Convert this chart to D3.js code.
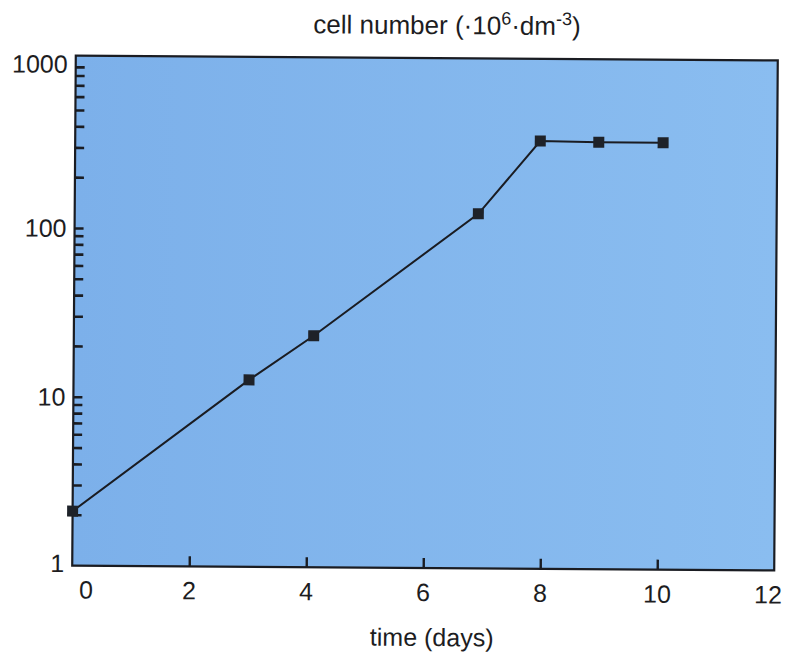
<!DOCTYPE html>
<html>
<head>
<meta charset="utf-8">
<script src="https://cdn.jsdelivr.net/npm/d3@7"></script>
<style>
  html, body { margin: 0; padding: 0; background: #fff; }
  svg { display: block; }
  text { font-family: "Liberation Sans", Arial, Helvetica, sans-serif; fill: #1d1d1f; }
</style>
</head>
<body>
<svg id="chart" width="787" height="655"></svg>
<script>
// Growth curve: cell density over the culture period
const days  = [0, 3, 4.1, 6.9, 7.95, 8.95, 10.05];
const cells = [2.1, 12.8, 23.5, 126, 342, 338, 338];

const xTickValues = [0, 2, 4, 6, 8, 10, 12];
const yLabelValues = [1, 10, 100, 1000];
const yMinorValues = [2,3,4,5,6,7,8,9,10, 20,30,40,50,60,70,80,90,100, 200,300,400,500,600,700,800,900];

const frame = { left: 74, right: 776, top: 58, bottom: 568 };

const svg = d3.select("#chart");
const g = svg.append("g")
  .attr("transform", `rotate(0.4, ${(frame.left + frame.right) / 2}, ${(frame.top + frame.bottom) / 2})`);

const x = d3.scaleLinear().domain([0, 12]).range([frame.left, frame.right]);
const y = d3.scaleLog().domain([1, 1050]).range([frame.bottom, frame.top]);

// plot background
const defs = svg.append("defs");
const grad = defs.append("linearGradient").attr("id", "bg").attr("x1", 0).attr("x2", 1).attr("y1", 0).attr("y2", 0);
grad.append("stop").attr("offset", "0%").attr("stop-color", "#7cb0ea");
grad.append("stop").attr("offset", "100%").attr("stop-color", "#8abdf0");

g.append("rect")
  .attr("x", frame.left).attr("y", frame.top)
  .attr("width", frame.right - frame.left).attr("height", frame.bottom - frame.top)
  .attr("fill", "url(#bg)");

// inward minor ticks on the log axis
g.append("g")
  .attr("transform", `translate(${frame.left},0)`)
  .call(d3.axisRight(y).tickValues(yMinorValues).tickSize(9).tickFormat(""))
  .call(a => a.select(".domain").remove())
  .call(a => a.selectAll("line").attr("stroke", "#1a1c22").attr("stroke-width", 2.6));

// inward ticks on the time axis
g.append("g")
  .attr("transform", `translate(0,${frame.bottom})`)
  .call(d3.axisTop(x).tickValues([2, 4, 6, 8, 10]).tickSize(10).tickFormat(""))
  .call(a => a.select(".domain").remove())
  .call(a => a.selectAll("line").attr("stroke", "#1a1c22").attr("stroke-width", 2.4));

// frame
g.append("rect")
  .attr("x", frame.left).attr("y", frame.top)
  .attr("width", frame.right - frame.left).attr("height", frame.bottom - frame.top)
  .attr("fill", "none").attr("stroke", "#1a1c22").attr("stroke-width", 2.2);

// y labels
g.append("g").selectAll("text")
  .data(yLabelValues)
  .join("text")
  .attr("x", frame.left - 8)
  .attr("y", d => y(d))
  .attr("dy", d => d === 1000 ? "0.55em" : (d === 1 ? "0.26em" : "0.36em"))
  .attr("text-anchor", "end")
  .attr("font-size", 25)
  .text(d => d);

// x labels (end labels nudged inward, clear of the frame corners)
g.append("g").selectAll("text")
  .data(xTickValues)
  .join("text")
  .attr("x", d => x(d) + (d === 0 ? 14 : d === 12 ? -6 : 0))
  .attr("y", frame.bottom + 33)
  .attr("text-anchor", "middle")
  .attr("font-size", 25)
  .text(d => d);

// axis titles
const title = g.append("text")
  .attr("x", 445).attr("y", 34)
  .attr("text-anchor", "middle")
  .attr("font-size", 26);
title.append("tspan").text("cell number (\u00b710");
title.append("tspan").attr("dy", -10).attr("font-size", 18).text("6");
title.append("tspan").attr("dy", 10).text("\u00b7dm");
title.append("tspan").attr("dy", -10).attr("font-size", 18).text("-3");
title.append("tspan").attr("dy", 10).text(")");

g.append("text")
  .attr("x", 434).attr("y", 646)
  .attr("text-anchor", "middle")
  .attr("font-size", 25)
  .text("time (days)");

// growth line and markers
const pts = days.map((d, i) => [d, cells[i]]);
g.append("path")
  .datum(pts)
  .attr("fill", "none")
  .attr("stroke", "#1a1c22")
  .attr("stroke-width", 2)
  .attr("d", d3.line().x(d => x(d[0])).y(d => y(d[1])));

const s = 11;
g.append("g").selectAll("rect")
  .data(pts)
  .join("rect")
  .attr("x", d => x(d[0]) - s / 2)
  .attr("y", d => y(d[1]) - s / 2)
  .attr("width", s).attr("height", s)
  .attr("fill", "#1e2229");
</script>
</body>
</html>
